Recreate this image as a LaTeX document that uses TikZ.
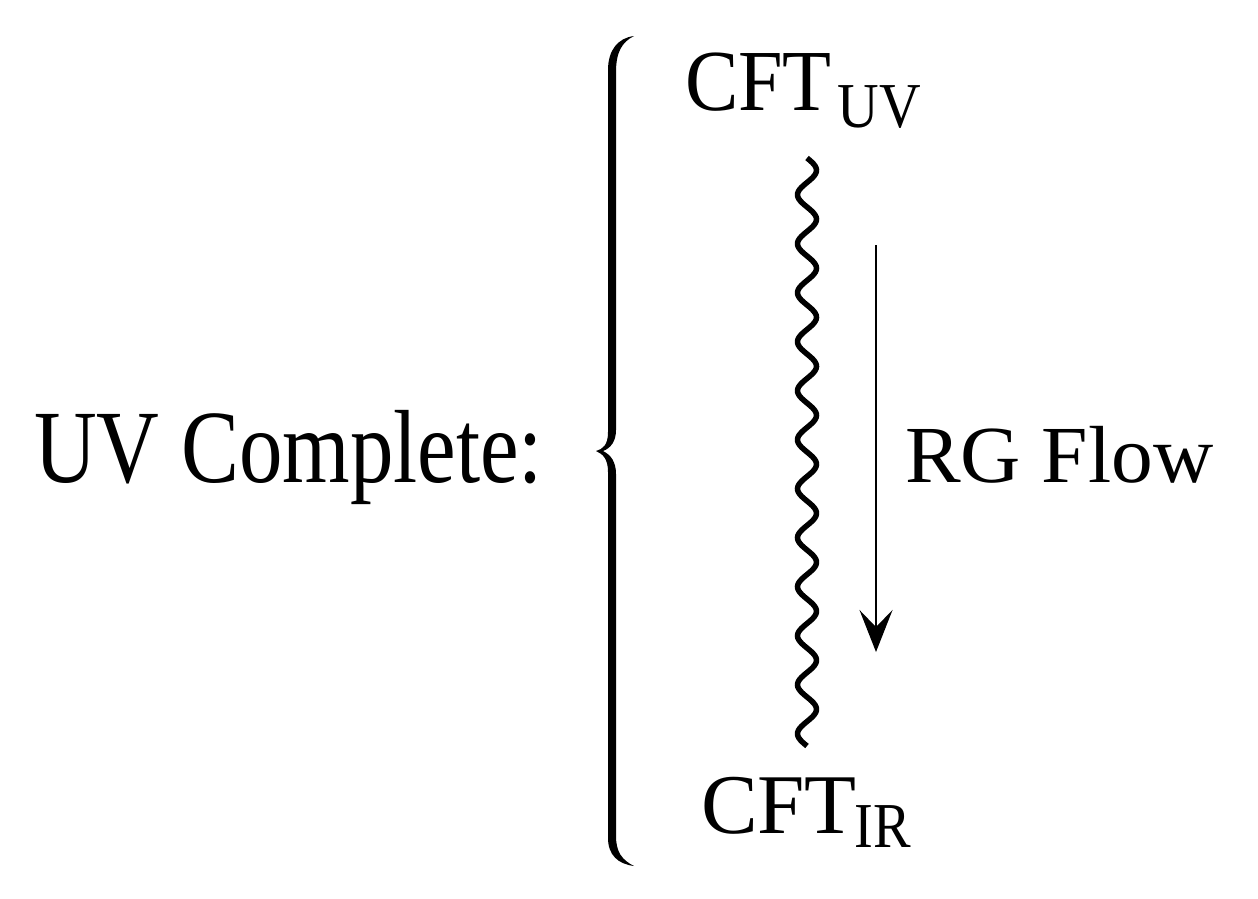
\documentclass[tikz,border=0pt]{standalone}
\usepackage{fontspec}
\setmainfont{Liberation Serif}
\usetikzlibrary{arrows.meta}
\newcommand{\fsz}[1]{\fontsize{#1}{#1}\selectfont}
\newcommand{\hsx}[2]{\scalebox{#1}[1]{#2}}
\begin{document}
\begin{tikzpicture}[x=1pt,y=-1pt,
  txt/.style={inner sep=0pt, outer sep=0pt, anchor=base west},
  wavy/.style={line width=5.5pt},
  flowarrow/.style={line width=2.5pt, -{Stealth[length=42pt, width=33pt, inset=17pt]}},
  bracefill/.style={fill=black, draw=none}]
\useasboundingbox (0,0) rectangle (1258,898);
% left label
\node[txt] (uvc) at (34,482) {\fsz{104}\hsx{0.835}{UV Complete:}};
% brace
\path[bracefill] (634,36) .. controls (618,38) and (608,50) .. (608,70)
  -- (608,432) .. controls (608,445) and (603,449) .. (596,451)
  .. controls (603,454) and (608,459) .. (608,472)
  -- (608,838) .. controls (608,855) and (618,864) .. (634,866)
  .. controls (622,860) and (616,852) .. (616,836)
  -- (616,474) .. controls (616,462) and (611,455) .. (603,451)
  .. controls (611,448) and (616,441) .. (616,430)
  -- (616,72) .. controls (616,52) and (622,42) .. (634,36) -- cycle;
% CFT labels
\node[txt] (cftuv) at (685,110) {\fsz{87}\hsx{0.92}{CFT}\hspace{6pt}\raisebox{-17pt}{\fsz{64}\hsx{0.9}{UV}}};
\node[txt] (cftir) at (701,833) {\fsz{85}\hsx{1.0}{CFT}\hspace{-2pt}\raisebox{-14pt}{\fsz{64}\hsx{0.88}{IR}}};
% wavy line (sine wave from wtop to wbot)
\coordinate (wtop) at (807,158);
\coordinate (wbot) at (807,746);
\draw[wavy] plot[domain=0:588, samples=300, smooth] ({807+9.5*sin(\x/49*360)}, {158+\x});
% arrow
\coordinate (atop) at (876,245);
\coordinate (abot) at (876,652);
\draw[flowarrow] (atop) -- (abot);
\node[txt] (rg) at (905,482) {\fsz{81}\hsx{1.03}{RG Flow}};
\end{tikzpicture}
\end{document}
